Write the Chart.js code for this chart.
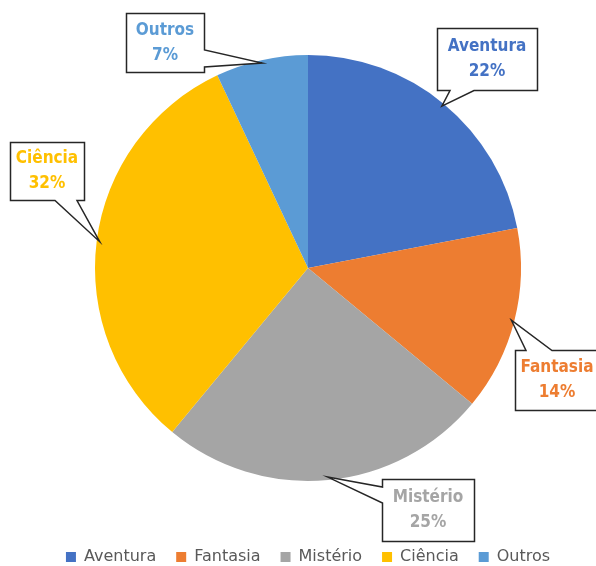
<!DOCTYPE html>
<html><head><meta charset="utf-8">
<script src="https://cdn.jsdelivr.net/npm/chart.js@4"></script>
<style>html,body{margin:0;padding:0;background:#fff}#wrap{width:596px;height:566px}</style>
</head><body><div id="wrap"><canvas id="c" width="596" height="566"></canvas></div>
<script>
const categories = ['Aventura', 'Fantasia', 'Mistério', 'Ciência', 'Outros'];
const percentValues = [22, 14, 25, 32, 7];
const valueLabels = ['22%', '14%', '25%', '32%', '7%'];
const sliceColors = ['#4472C4', '#ED7D31', '#A5A5A5', '#FFC000', '#5B9BD5'];

// callout box layout (position/style only)
const calloutLayout = [
  {x: 437, y: 28,  w: 100, h: 62, edge: 'bottom', a: 450, b: 474},
  {x: 515, y: 350, w: 84,  h: 60, edge: 'top',    a: 526, b: 552},
  {x: 382, y: 479, w: 92,  h: 62, edge: 'left',   a: 487, b: 503},
  {x: 10,  y: 142, w: 74,  h: 58, edge: 'bottom', a: 55,  b: 77},
  {x: 126, y: 13,  w: 78,  h: 59, edge: 'right',  a: 50,  b: 67}
];

const calloutPlugin = {
  id: 'callouts',
  afterDatasetsDraw(chart) {
    const ctx = chart.ctx;
    const meta = chart.getDatasetMeta(0);
    meta.data.forEach((arc, i) => {
      const L = calloutLayout[i];
      const p = arc.getProps(['x', 'y', 'startAngle', 'endAngle', 'outerRadius'], true);
      const mid = (p.startAngle + p.endAngle) / 2;
      const tx = p.x + Math.cos(mid) * (p.outerRadius - 3);
      const ty = p.y + Math.sin(mid) * (p.outerRadius - 3);
      const x = L.x + 0.5, y = L.y + 0.5, w = L.w, h = L.h;
      ctx.save();
      ctx.beginPath();
      ctx.moveTo(x, y);
      if (L.edge === 'top') { ctx.lineTo(L.a, y); ctx.lineTo(tx, ty); ctx.lineTo(L.b, y); }
      ctx.lineTo(x + w, y);
      if (L.edge === 'right') { ctx.lineTo(x + w, L.a); ctx.lineTo(tx, ty); ctx.lineTo(x + w, L.b); }
      ctx.lineTo(x + w, y + h);
      if (L.edge === 'bottom') { ctx.lineTo(L.b, y + h); ctx.lineTo(tx, ty); ctx.lineTo(L.a, y + h); }
      ctx.lineTo(x, y + h);
      if (L.edge === 'left') { ctx.lineTo(x, L.b); ctx.lineTo(tx, ty); ctx.lineTo(x, L.a); }
      ctx.closePath();
      ctx.fillStyle = '#ffffff';
      ctx.fill();
      ctx.lineWidth = 1.5;
      ctx.lineJoin = 'miter';
      ctx.strokeStyle = '#262626';
      ctx.stroke();
      ctx.fillStyle = sliceColors[i];
      ctx.font = 'bold 17px "DejaVu Sans Condensed", "DejaVu Sans", sans-serif';
      ctx.textAlign = 'center';
      ctx.textBaseline = 'middle';
      const cx = L.x + w / 2, cy = L.y + h / 2;
      ctx.fillText(chart.data.labels[i], cx, cy - 12);
      ctx.fillText(valueLabels[i], cx, cy + 13);
      ctx.restore();
    });
  }
};

new Chart(document.getElementById('c'), {
  type: 'pie',
  data: {
    labels: categories,
    datasets: [{
      data: percentValues,
      backgroundColor: sliceColors,
      borderWidth: 0,
      radius: 213
    }]
  },
  options: {
    responsive: false,
    animation: false,
    layout: {padding: {top: 7, left: 20, right: 0, bottom: -9}},
    plugins: {
      tooltip: {enabled: false},
      legend: {
        position: 'bottom',
        labels: {
          boxWidth: 10,
          boxHeight: 10,
          padding: 20,
          color: '#595959',
          font: {family: '"DejaVu Sans", sans-serif', size: 16}
        }
      }
    }
  },
  plugins: [calloutPlugin]
});
</script>
</body></html>
